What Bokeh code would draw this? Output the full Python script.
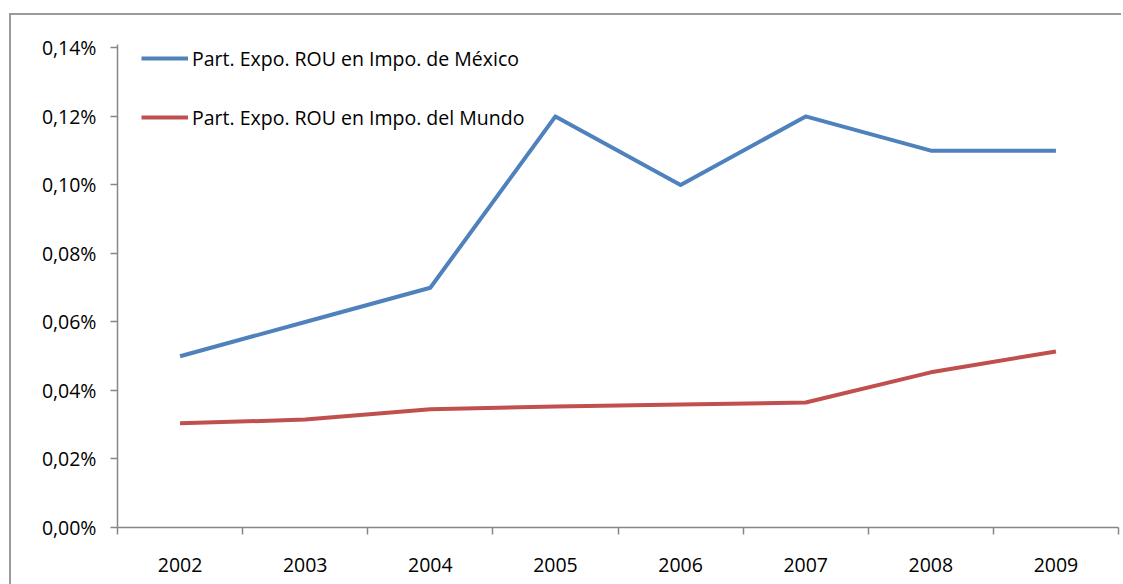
from bokeh.plotting import figure
from bokeh.models import (FixedTicker, CustomJSTickFormatter, Legend, LegendItem,
                          Range1d, ColumnDataSource, InlineStyleSheet)
from bokeh.embed import file_html
from bokeh.resources import INLINE

years = ["2002", "2003", "2004", "2005", "2006", "2007", "2008", "2009"]
mexico = [0.05, 0.06, 0.07, 0.12, 0.10, 0.12, 0.11, 0.11]
mundo = [0.0304, 0.0315, 0.0345, 0.0353, 0.0359, 0.0365, 0.0453, 0.0514]
y_ticks = [0.0, 0.02, 0.04, 0.06, 0.08, 0.10, 0.12, 0.14]
label_mexico = "Part. Expo. ROU en Impo. de México"
label_mundo = "Part. Expo. ROU en Impo. del Mundo"

FONT = "Open Sans"
FONT_SIZE = "19.5px"
AXIS_COLOR = "#868686"
BORDER_COLOR = "#9A9A9A"

xs = list(range(1, len(years) + 1))
src = ColumnDataSource(dict(x=xs, mexico=mexico, mundo=mundo))

p = figure(width=1121, height=584, output_backend="svg", toolbar_location=None,
           x_range=Range1d(0.5, len(years) + 0.5), y_range=Range1d(0, 0.1410),
           min_border_left=117, min_border_right=3, min_border_top=44, min_border_bottom=57)
p.outline_line_color = None
p.xgrid.grid_line_color = None
p.ygrid.grid_line_color = None
p.background_fill_color = "white"
p.border_fill_color = "white"

# chart-area border: only its left and top edges are inside the picture
p.stylesheets = [InlineStyleSheet(css=f"""
:host::before {{
  content: "";
  position: absolute;
  left: 9px; top: 13px; width: 3000px; height: 3000px;
  border-left: 2px solid {BORDER_COLOR};
  border-top: 2px solid {BORDER_COLOR};
  z-index: 10;
  pointer-events: none;
}}
:host {{ overflow: hidden; }}
""")]

r1 = p.line("x", "mexico", source=src, line_color="#4F81BD", line_width=4, line_join="round")
r2 = p.line("x", "mundo", source=src, line_color="#C0504D", line_width=4, line_join="round")

# X axis: labels at category centres, ticks at category boundaries
p.xaxis.ticker = FixedTicker(ticks=xs, minor_ticks=[x - 0.5 for x in xs] + [len(xs) + 0.5])
p.xaxis.major_label_overrides = {x: y for x, y in zip(xs, years)}
p.xaxis.major_tick_line_color = None
p.xaxis.major_tick_out = 0
p.xaxis.major_tick_in = 0
p.xaxis.minor_tick_line_color = AXIS_COLOR
p.xaxis.minor_tick_line_width = 1.5
p.xaxis.minor_tick_out = 7
p.xaxis.minor_tick_in = 0
p.xaxis.major_label_standoff = 23

# Y axis
p.yaxis.ticker = FixedTicker(ticks=y_ticks, minor_ticks=[])
p.yaxis.formatter = CustomJSTickFormatter(code="return tick.toFixed(2).replace('.', ',') + '%';")
p.yaxis.major_tick_line_color = AXIS_COLOR
p.yaxis.major_tick_line_width = 1.5
p.yaxis.major_tick_out = 7
p.yaxis.major_tick_in = 0
p.yaxis.major_label_standoff = 14

for ax in (p.xaxis[0], p.yaxis[0]):
    ax.axis_line_color = AXIS_COLOR
    ax.axis_line_width = 1.5
    ax.major_label_text_font = FONT
    ax.major_label_text_font_size = FONT_SIZE
    ax.major_label_text_color = "black"

legend = Legend(items=[LegendItem(label=label_mexico, renderers=[r1]),
                       LegendItem(label=label_mundo, renderers=[r2])],
                location=(24, 396), orientation="vertical",
                glyph_width=47, glyph_height=28, label_height=28, spacing=31,
                label_standoff=4, padding=0, margin=0,
                border_line_color=None, background_fill_alpha=0,
                label_text_font=FONT, label_text_font_size=FONT_SIZE, label_text_color="black")
p.add_layout(legend, "center")

open("out.html", "w").write(file_html(p, INLINE))
